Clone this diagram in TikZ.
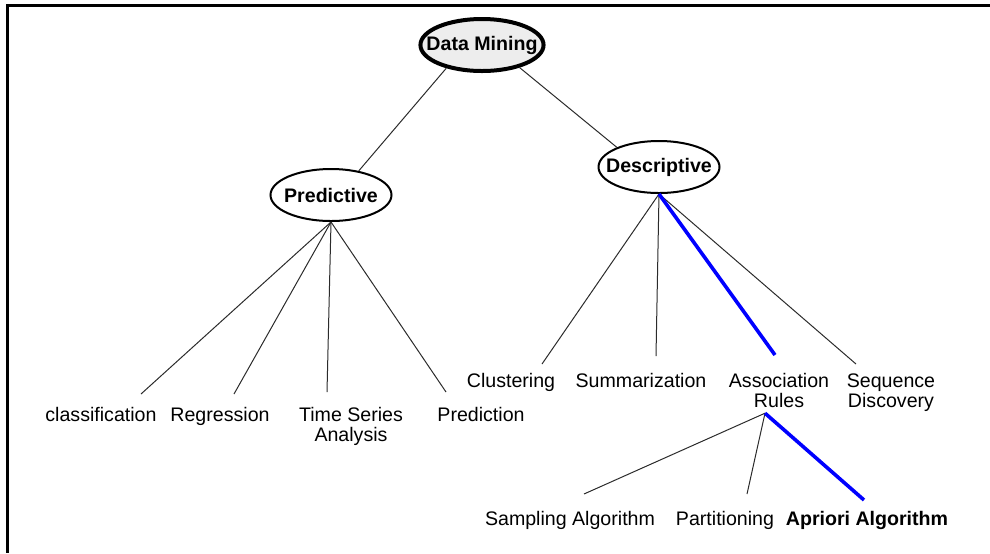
\documentclass[tikz,border=0pt]{standalone}
\usepackage{fontspec}
\setmainfont{Liberation Sans}
\usepackage{tikz}
\usetikzlibrary{shapes.geometric,calc}
\definecolor{dmInk}{HTML}{000000}
\definecolor{dmLine}{HTML}{2B2B2B}
\definecolor{dmBlue}{HTML}{0000FF}
\definecolor{dmShade}{HTML}{EDEDED}
\tikzset{
  % Root ellipse (heavy border, shaded)
  rootnode/.style={ellipse,draw=dmInk,line width=2pt,fill=dmShade,
    minimum width=59.5pt,minimum height=26pt,inner xsep=-6pt,
    font=\fontsize{9.8}{10}\selectfont\bfseries,text=dmInk},
  % Category ellipse
  catnode/.style={ellipse,draw=dmInk,line width=1pt,fill=white,
    minimum width=60.5pt,minimum height=26pt,inner xsep=-6pt,
    font=\fontsize{9.8}{10}\selectfont\bfseries,text=dmInk},
  % Plain text leaf, placed by its top
  leafnode/.style={anchor=north,inner sep=0pt,align=center,
    font=\fontsize{9.8}{10}\selectfont,text=dmInk},
  % Connectors
  link/.style={draw=dmLine,line width=0.5pt},
  hotlink/.style={draw=dmBlue,line width=1.8pt},
}

\begin{document}
\begin{tikzpicture}[x=0.5pt,y=-0.5pt]
  \useasboundingbox (0,0) rectangle (990,553);
  % Frame
  \draw[dmInk,line width=1.5pt] (990,5.5) -- (7,5.5) -- (7,553);

  % Root and the two branches
  \node[rootnode] (dm) at (482,45) {Data Mining};
  \node[catnode] (pred) at (331,195) {Predictive};
  \node[catnode] (desc) at (659,167) {Descriptive};
  \draw[link] (dm.213) -- (pred.41);
  \draw[link] (dm.-31) -- (desc.155);

  % Predictive tasks
  \node[leafnode] (cls) at (101,407) {classification};
  \node[leafnode] (reg) at (220,407) {Regression};
  \node[leafnode] (tsa) at (351,407) {Time Series\\Analysis};
  \node[leafnode] (pre) at (481,407) {Prediction};
  \foreach \leaf/\dx/\dy in {cls/40/-13,reg/14/-13,tsa/-24/-15,pre/-35/-15}
    \draw[link] (pred.south) -- ($(\leaf.north)+(\dx,\dy)$);

  % Descriptive tasks
  \node[leafnode] (clu) at (511,373) {Clustering};
  \node[leafnode] (sum) at (641,373) {Summarization};
  \node[leafnode] (asr) at (779,373) {Association\\Rules};
  \node[leafnode] (seq) at (891,373) {Sequence\\Discovery};
  \foreach \leaf/\dx/\dy in {clu/31/-9,sum/15/-17,seq/-35/-9}
    \draw[link] (desc.south) -- ($(\leaf.north)+(\dx,\dy)$);
  \draw[hotlink] (desc.south) -- ($(asr.north)+(-4,-18)$);

  % Association rule algorithms
  \node[leafnode] (smp) at (570,511) {Sampling Algorithm};
  \node[leafnode] (prt) at (725,511) {Partitioning};
  \node[leafnode,font=\fontsize{9.8}{10}\selectfont\bfseries] (apr) at (867,511)
    {Apriori Algorithm};
  \foreach \leaf/\dx/\dy in {smp/14/-17,prt/22/-17}
    \draw[link] ($(asr.south)+(-14,5)$) -- ($(\leaf.north)+(\dx,\dy)$);
  \draw[hotlink] ($(asr.south)+(-14,5)$) -- ($(apr.north)+(-3,-11)$);
\end{tikzpicture}
\end{document}
